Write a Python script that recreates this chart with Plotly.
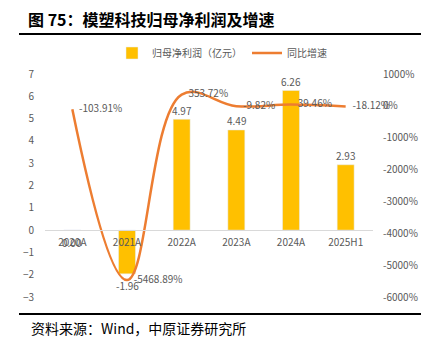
import plotly.graph_objects as go

categories = ["2020A", "2021A", "2022A", "2023A", "2024A", "2025H1"]
net_profit = [0.00, -1.96, 4.97, 4.49, 6.26, 2.93]
growth_pct = [-103.91, -5468.89, 353.72, -9.82, 39.46, -18.12]
left_ticks = list(range(-3, 8))
right_ticks = list(range(-6000, 1001, 1000))

L, R, T, B = 45, 61, 74, 54
W, H = 434, 351
pw, ph = W - L - R, H - T - B

def px_x(x):
    return (x - L) / pw

def px_y(y):
    return (H - B - y) / ph

gray = "#595959"
fontfam = "Noto Sans CJK SC, Noto Sans, sans-serif"
pad = "\u00a0\u00a0\u00a0"

fig = go.Figure()
fig.add_trace(go.Bar(
    x=categories, y=net_profit, name="归母净利润（亿元）",
    marker=dict(color="#FFC000"), width=0.31, yaxis="y",
))
fig.add_trace(go.Scatter(
    x=categories, y=growth_pct, name="同比增速", mode="lines+text",
    line=dict(color="#ED7D31", width=2.5, shape="spline", smoothing=1.1),
    text=[f"{pad}{v:.2f}%" for v in growth_pct], textposition="middle right",
    textfont=dict(size=10, color=gray), yaxis="y2", cliponaxis=False,
))

bar_labels = [
    dict(x=c, y=v, xref="x", yref="y", text=f"{v:.2f}", showarrow=False,
         yshift=(9 if v > 0 else -12), font=dict(size=10, color=gray))
    for c, v in zip(categories, net_profit)
]

fig.update_layout(
    width=W, height=H, margin=dict(l=L, r=R, t=T, b=B),
    paper_bgcolor="white", plot_bgcolor="white",
    font=dict(family=fontfam, color=gray, size=10),
    bargap=0.69,
    xaxis=dict(type="category", anchor="free", position=0.3, showline=True,
               linecolor="#D9D9D9", linewidth=1, showgrid=False,
               ticks="outside", ticklen=3, tickcolor="rgba(0,0,0,0)",
               tickfont=dict(size=10, color=gray), range=[-0.5, 5.5]),
    yaxis=dict(range=[-3, 7], tickvals=left_ticks, showgrid=False, zeroline=False,
               ticks="outside", ticklen=8, tickcolor="rgba(0,0,0,0)",
               tickfont=dict(size=10, color=gray), domain=[0, 1]),
    yaxis2=dict(range=[-6000, 1000], tickvals=right_ticks,
                ticktext=[f"{v}%" for v in right_ticks],
                overlaying="y", side="right", showgrid=False, zeroline=False,
                ticks="outside", ticklen=7, tickcolor="rgba(0,0,0,0)",
                tickfont=dict(size=10, color=gray)),
    legend=dict(orientation="h", x=px_x(222), y=px_y(53), xanchor="center",
                yanchor="middle", font=dict(size=10, color=gray),
                itemwidth=30, traceorder="normal"),
    title=dict(text="<b>图 75：模塑科技归母净利润及增速</b>", x=28 / W, xanchor="left",
               y=1 - 20 / H, yanchor="middle",
               font=dict(size=16, color="#000000", family=fontfam)),
    shapes=[
        dict(type="line", xref="paper", yref="paper", x0=px_x(19), x1=px_x(421),
             y0=px_y(34), y1=px_y(34), line=dict(color="black", width=2)),
        dict(type="line", xref="paper", yref="paper", x0=px_x(19), x1=px_x(421),
             y0=px_y(314), y1=px_y(314), line=dict(color="black", width=2)),
    ],
    annotations=bar_labels + [
        dict(text="资料来源：Wind，中原证券研究所", xref="paper", yref="paper",
             x=px_x(29), y=px_y(328), xanchor="left", yanchor="middle",
             showarrow=False, font=dict(size=14, color="#000000", family=fontfam)),
    ],
)

fig.write_html("out.html")
